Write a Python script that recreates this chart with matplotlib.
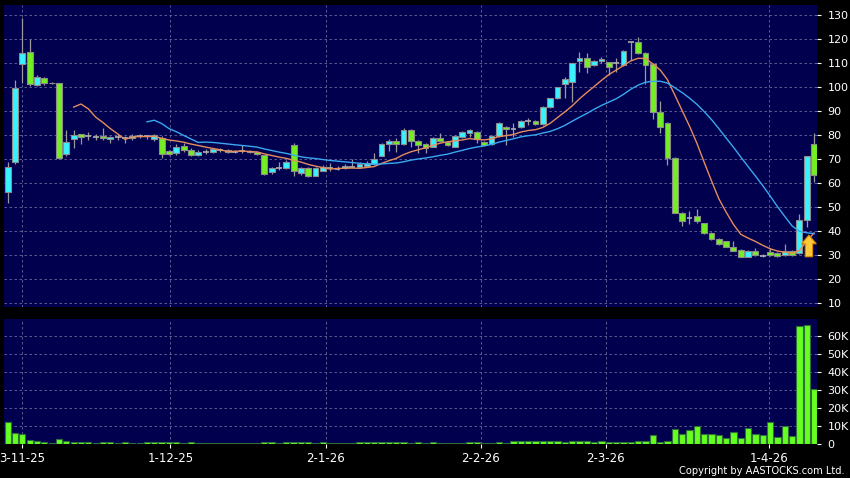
import numpy as np
import pandas as pd
import matplotlib
matplotlib.use("Agg")
import matplotlib.pyplot as plt
from matplotlib.patches import FancyArrow

# daily candles, oldest first (index = trading day)
opens = [56.2, 68.6, 109.4, 114.6, 100.8, 103.5, 101.5, 101.5, 71.9, 78.2,
         80.2, 79.5, 79.3, 79.7, 78.3, 79.3, 78.8, 78.6, 79.5, 79.5,
         78.2, 78.8, 73.3, 72.3, 75.4, 73.7, 71.6, 73.0, 73.0, 73.7,
         73.7, 73.0, 73.2, 73.3, 72.8, 71.6, 64.4, 66.4, 66.1, 75.7,
         64.0, 66.1, 63.0, 65.1, 66.1, 66.0, 66.2, 66.8, 66.6, 67.1,
         67.9, 71.3, 76.1, 77.4, 76.1, 82.0, 77.5, 76.1, 75.1, 78.6,
         77.2, 75.1, 79.3, 80.9, 81.1, 77.2, 76.2, 79.5, 83.4, 82.3,
         83.2, 85.9, 85.9, 84.4, 91.5, 95.2, 101.0, 101.9, 110.7, 112.1,
         109.1, 110.7, 110.2, 110.0, 109.1, 118.5, 118.5, 114.2, 109.5, 89.6,
         85.1, 70.3, 47.6, 45.6, 46.3, 43.2, 39.3, 36.8, 35.7, 33.2,
         32.1, 29.3, 31.7, 29.6, 31.2, 30.8, 30.0, 31.8, 30.8, 44.6,
         76.1]
highs = [68.7, 102.8, 128.5, 119.8, 105.0, 104.0, 102.0, 101.5, 82.0, 82.0,
         80.5, 81.3, 80.3, 82.7, 79.7, 80.5, 79.6, 80.3, 80.2, 80.0,
         80.3, 79.5, 73.8, 76.0, 76.5, 74.5, 73.5, 74.0, 74.5, 74.7,
         74.0, 73.5, 75.8, 73.8, 73.2, 71.8, 66.8, 68.9, 69.6, 76.5,
         66.5, 66.5, 66.5, 67.5, 68.2, 67.0, 67.8, 70.0, 68.5, 69.0,
         72.3, 76.5, 78.2, 78.6, 82.7, 82.3, 77.8, 76.5, 78.9, 80.9,
         77.6, 80.0, 81.5, 82.4, 81.4, 77.5, 80.0, 85.2, 83.7, 84.8,
         86.2, 86.8, 86.3, 91.8, 95.5, 100.1, 104.0, 110.0, 114.6, 114.0,
         111.3, 112.5, 110.5, 112.0, 115.2, 118.8, 120.8, 114.5, 109.8, 94.0,
         85.4, 70.6, 48.0, 48.5, 49.0, 43.5, 39.6, 37.1, 36.0, 36.0,
         32.4, 32.2, 33.0, 30.5, 33.0, 31.1, 34.5, 32.1, 47.1, 71.3,
         80.7]
lows = [51.7, 68.0, 101.5, 100.5, 100.5, 100.8, 101.0, 70.0, 71.0, 74.4,
        76.0, 77.9, 78.0, 77.9, 76.5, 78.0, 76.6, 78.0, 78.5, 78.2,
        77.5, 70.4, 71.5, 71.8, 73.0, 71.2, 71.2, 72.2, 72.5, 72.8,
        72.5, 72.3, 72.3, 72.3, 71.5, 63.2, 63.8, 65.4, 65.8, 63.0,
        63.5, 62.6, 62.8, 64.8, 65.1, 65.3, 65.8, 66.5, 66.3, 66.8,
        67.5, 71.0, 73.4, 73.0, 75.8, 75.1, 72.3, 72.3, 74.8, 77.0,
        75.5, 74.8, 78.5, 79.3, 76.8, 75.5, 75.8, 79.2, 75.8, 79.3,
        82.9, 84.0, 84.2, 84.0, 91.2, 95.0, 95.2, 93.8, 106.3, 105.6,
        108.8, 109.8, 104.9, 106.0, 108.8, 111.0, 113.7, 101.0, 86.5, 80.8,
        67.5, 47.3, 42.0, 43.0, 43.5, 38.8, 36.3, 34.3, 33.2, 31.5,
        29.0, 29.0, 29.7, 29.0, 29.7, 29.3, 29.7, 29.8, 30.5, 41.8,
        60.5]
closes = [66.6, 99.4, 113.9, 101.2, 104.2, 101.5, 101.4, 70.3, 77.2, 79.8,
          79.3, 79.5, 79.3, 78.8, 79.0, 79.3, 78.8, 79.7, 79.5, 79.5,
          80.0, 71.9, 71.9, 75.1, 73.7, 71.6, 72.8, 73.0, 74.0, 73.7,
          72.8, 73.0, 73.2, 72.8, 71.9, 63.7, 66.1, 66.4, 68.7, 65.1,
          66.1, 63.0, 66.1, 66.5, 66.1, 66.0, 67.2, 66.8, 68.0, 68.4,
          69.9, 76.1, 77.4, 76.1, 82.0, 77.5, 75.8, 74.7, 78.6, 77.3,
          75.8, 79.7, 81.1, 82.0, 78.2, 75.8, 79.7, 84.8, 82.3, 82.3,
          85.9, 85.9, 84.5, 91.5, 95.2, 99.8, 103.1, 109.8, 111.9, 108.4,
          110.9, 111.5, 108.4, 110.0, 114.9, 118.5, 114.0, 109.1, 89.6, 83.2,
          70.3, 47.6, 44.0, 45.6, 44.3, 39.1, 36.6, 34.6, 33.5, 31.8,
          29.3, 31.8, 30.0, 29.6, 30.0, 29.6, 31.8, 30.2, 44.6, 71.0,
          63.3]
# volume in thousands of shares
volume_k = [12.0, 6.0, 5.6, 2.2, 1.7, 1.1, 0.5, 2.6, 1.7, 1.0,
            0.9, 1.0, 0.8, 0.9, 0.9, 0.8, 0.9, 0.8, 0.8, 0.9,
            1.0, 1.1, 0.9, 0.9, 0.8, 0.9, 0.8, 0.7, 0.8, 0.7,
            0.8, 0.7, 0.7, 0.8, 0.8, 1.0, 0.9, 0.8, 1.1, 1.1,
            0.9, 0.9, 0.8, 0.9, 0.7, 0.8, 0.7, 0.7, 1.0, 1.0,
            0.9, 1.0, 1.0, 0.9, 1.3, 0.7, 1.3, 0.8, 1.0, 0.8,
            0.7, 0.7, 0.7, 1.0, 1.1, 0.7, 0.7, 1.2, 0.8, 1.6,
            1.7, 1.6, 1.4, 1.7, 1.7, 1.4, 1.0, 1.6, 1.5, 1.5,
            1.3, 1.5, 1.1, 1.0, 1.2, 1.3, 1.4, 1.8, 5.0, 1.0,
            1.7, 8.1, 5.6, 7.8, 10.2, 5.4, 5.4, 4.8, 3.1, 6.5,
            3.3, 8.9, 5.6, 5.2, 12.0, 3.7, 10.0, 4.4, 65.7, 66.1,
            30.4]

date_labels = ["3-11-25", "1-12-25", "2-1-26", "2-2-26", "2-3-26", "1-4-26"]
date_idx = [2, 22.2, 43.4, 64.5, 81.6, 103.9]
price_ticks = list(range(10, 131, 10))
vol_ticks = [0, 10, 20, 30, 40, 50, 60]

# signal arrow under the last candles
arrow_idx = 109.3
arrow_base = 29.3
arrow_tip = 38.3

NAVY = "#00004e"
GRID = "#6a6a9c"
CYAN = "#3af2ff"
LIME = "#74ee22"
VOLGREEN = "#66ff1f"

o = np.array(opens)
h = np.array(highs)
l = np.array(lows)
c = np.array(closes)
x = np.arange(len(c))
ma10 = pd.Series(c).rolling(10).mean()
ma20 = pd.Series(c).rolling(20).mean()

fig = plt.figure(figsize=(8.5, 4.78), dpi=100, facecolor="black")
ax = fig.add_axes([4 / 850, 1 - 307 / 478, 813 / 850, 302 / 478])
axv = fig.add_axes([4 / 850, 1 - 444 / 478, 813 / 850, 125 / 478])

for a in (ax, axv):
    a.set_facecolor(NAVY)
    for s in a.spines.values():
        s.set_visible(False)
    a.set_axisbelow(True)
    a.grid(True, color=GRID, linestyle=(0, (3, 3)), linewidth=0.6)
    a.set_xlim(-0.5, 110.4)
    a.set_xticks(date_idx)
    a.yaxis.tick_right()
    a.tick_params(axis="y", colors="white", labelsize=8, length=3,
                  width=0.8, pad=4.5)

# candles
up = c > o
flat = c == o
ax.vlines(x, l, h, color="#9a9a9a", linewidth=0.9, zorder=2)
body_col = np.where(up, CYAN, LIME)
ax.bar(x[~flat], np.abs(c - o)[~flat], bottom=np.minimum(o, c)[~flat],
       width=0.8, color=body_col[~flat], edgecolor="#8c8c8c",
       linewidth=0.8, zorder=3)
ax.hlines(c[flat], x[flat] - 0.4, x[flat] + 0.4, color="#b0b0b0",
          linewidth=1.2, zorder=3)

ax.plot(x, ma10, color="#e58c5c", linewidth=1.0, zorder=4)
ax.plot(x, ma20, color="#3aa8f0", linewidth=1.0, zorder=4)

ax.add_patch(FancyArrow(arrow_idx, arrow_base, 0, arrow_tip - arrow_base,
                        width=1.0, head_width=2.0, head_length=3.6,
                        length_includes_head=True, facecolor="#ffc93a",
                        edgecolor="#d88a00", linewidth=0.8, zorder=6))

ax.set_ylim(8.4, 134.0)
ax.set_yticks(price_ticks)
ax.tick_params(axis="x", length=0, labelbottom=False)

# volume
axv.bar(x, volume_k, width=0.85, color=VOLGREEN, edgecolor="#2f6e3c",
        linewidth=0.8, zorder=3)
axv.set_ylim(0, 69.4)
axv.set_yticks(vol_ticks)
axv.set_yticklabels(["0" if v == 0 else f"{v}K" for v in vol_ticks])
axv.set_xticklabels(date_labels)
axv.tick_params(axis="x", colors="white", labelsize=8.5, length=3,
                width=0.8, pad=3)

fig.text(845 / 850, 1 - 471 / 478, "Copyright by AASTOCKS.com Ltd.",
         color="white", fontsize=7.1, ha="right", va="center")

fig.savefig("out.png", dpi=100, facecolor="black")
